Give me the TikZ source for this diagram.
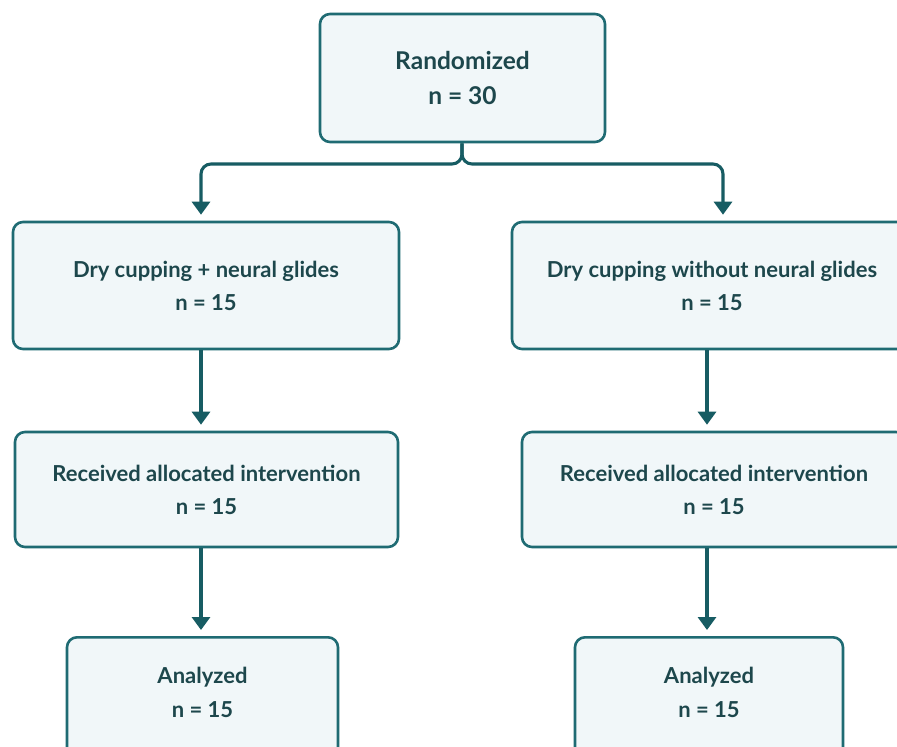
\documentclass[tikz,border=0pt]{standalone}
\usepackage{fontspec}
\setmainfont{Lato}
\usetikzlibrary{arrows.meta}
\definecolor{bordc}{HTML}{1F6B73}
\definecolor{arrc}{HTML}{175C63}
\definecolor{fillc}{HTML}{F1F7F9}
\definecolor{txtc}{HTML}{1D474C}
\tikzset{
  boxst/.style={draw=bordc, line width=2.6pt, fill=fillc, rounded corners=10pt,
    inner sep=0pt, align=center, text=txtc,
    font=\fontsize{22}{33}\selectfont\bfseries},
  txtst/.style={align=center, text=txtc, inner sep=0pt,
    font=\fontsize{22}{34}\selectfont\bfseries},
  arr/.style={draw=arrc, line width=3.1pt, -{Triangle[width=18pt,length=13pt]}, shorten >=6pt},
}
\begin{document}
\begin{tikzpicture}[x=1pt,y=-1pt]
\useasboundingbox (0,0) rectangle (897,747);
\clip (0,0) rectangle (897,747);
\fill[white] (0,0) rectangle (897,747);
\node[boxst, minimum width=285pt, minimum height=128pt, font=\fontsize{24.5}{35}\selectfont\bfseries] (rand) at (462.5,78) {Randomized\\n = 30};
\node[boxst, minimum width=386pt, minimum height=127pt] (g1) at (206,285.5) {Dry cupping + neural glides\\n = 15};
\node[boxst, minimum width=400pt, minimum height=127pt] (g2) at (712,285.5) {Dry cupping without neural glides\\n = 15};
\node[boxst, minimum width=383pt, minimum height=115pt] (r1) at (206.5,489.5) {Received allocated intervention\\n = 15};
\node[boxst, minimum width=384pt, minimum height=115pt] (r2) at (714,489.5) {Received allocated intervention\\n = 15};
\node[boxst, minimum width=271pt, minimum height=140pt, anchor=north] (a1) at (202.5,636) {};
\node[boxst, minimum width=268pt, minimum height=140pt, anchor=north] (a2) at (709,636) {};
\node[txtst] (a1t) at (202.5,692) {Analyzed\\n = 15};
\node[txtst] (a2t) at (709,692) {Analyzed\\n = 15};
\coordinate (colL) at (201,0);
\coordinate (colR) at (707,0);
\coordinate (colT) at (723,0);
\coordinate (junc) at (462,164);
\draw[arr, rounded corners=10pt] (rand.south -| junc) -- (junc) -- (junc -| colL) -- (g1.north -| colL);
\draw[arr, rounded corners=10pt] (rand.south -| junc) -- (junc) -- (junc -| colT) -- (g2.north -| colT);
\draw[arr] (g1.south -| colL) -- (r1.north -| colL);
\draw[arr] (g2.south -| colR) -- (r2.north -| colR);
\draw[arr] (r1.south -| colL) -- (a1.north -| colL);
\draw[arr] (r2.south -| colR) -- (a2.north -| colR);
\end{tikzpicture}
\end{document}
